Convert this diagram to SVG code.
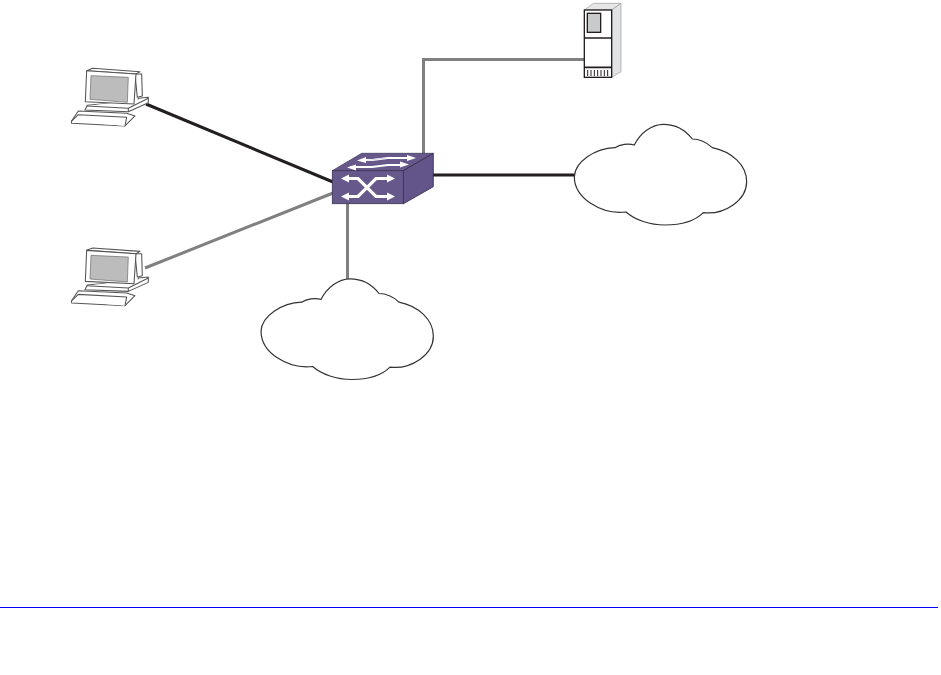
<svg xmlns="http://www.w3.org/2000/svg" width="941" height="675" viewBox="0 0 941 675">
<style>
.blk{fill:none;stroke:#231f20;stroke-width:3}
.gry{fill:none;stroke:#808080;stroke-width:3}
.cloud{fill:#fff;stroke:#333;stroke-width:3.6}
.o{fill:#fff;stroke:#555;stroke-width:3.2;stroke-linejoin:round}
.w{fill:none;stroke:#fff;stroke-width:2}
.x{fill:none;stroke:#fff;stroke-width:3.2}
.wf{fill:#fff}
</style>
<defs>
<path id="cloudShape" class="cloud" d="M28 185C30 140 90 100 150 98C165 88 190 85 208 90C225 55 260 28 295 28C335 28 365 50 382 72C405 72 425 82 442 98C500 110 545 150 545 200C545 255 480 300 415 293C390 318 350 330 300 330C255 330 210 315 183 291C110 300 28 250 28 185Z"/>
<g id="pc">
<path class="o" d="M235 115L265 112L265 128L205 155L75 150L82 136L235 122Z"/>
<path class="o" d="M205 155L205 145M265 115L205 145L80 138"/>
<path class="o" d="M55 153L200 160L225 168L195 198L35 190L34 184Z"/>
<path class="o" d="M195 198L200 172L55 164L34 184"/>
<path class="o" d="M225 42L245 42L247 108L232 112Z"/>
<path class="o" d="M80 32L98 25L240 35L228 42Z"/>
<path class="o" d="M80 32L228 42L222 132L76 125Z"/>
<path d="M93 47L205 52L202 127L90 118Z" fill="#bcbcbc" stroke="#666" stroke-width="2"/>
</g>
</defs>
<g id="connectors">
<path class="blk" d="M146 104L333 182"/>
<path class="gry" d="M145 268L333 193"/>
<path class="gry" d="M347.5 203V279"/>
<path class="gry" d="M423.5 154V59.5H585"/>
<path class="blk" d="M433 175H576"/>
</g>
<g id="pc1" transform="translate(60 60) scale(.3333)"><use href="#pc"/></g>
<g id="pc2" transform="translate(60 239.7) scale(.3333)"><use href="#pc"/></g>
<g id="server" transform="translate(570 0) scale(.3333)">
<path d="M43 30L70 10H153L125 30Z" fill="#e6e6e6" stroke="#999" stroke-width="2"/>
<path d="M125 30L153 10V215L125 232Z" fill="#e2e3e4" stroke="#999" stroke-width="2"/>
<rect x="43" y="30" width="82" height="202" fill="#fff" stroke="#231f20" stroke-width="4"/>
<rect x="52" y="40" width="40" height="57" fill="#c9cacb" stroke="#231f20" stroke-width="4"/>
<path d="M43 114H125M43 202H125" stroke="#231f20" stroke-width="5" fill="none"/>
<path d="M53 210V228M63 210V228M73 210V228M83 210V228M93 210V228M103 210V228M113 210V228" stroke="#231f20" stroke-width="3" fill="none"/>
</g>
<g id="switch">
<path d="M332.3 170.7L361.7 153.3H433.3L403.3 170.7Z" fill="#67588c" stroke="#3a3256" stroke-width=".7"/>
<path d="M403.3 170.7L433.3 153.3V186.7L403.3 203.8Z" fill="#63548a" stroke="#2e2745" stroke-width=".8"/>
<rect x="332.3" y="170.7" width="71" height="33" fill="#67588c" stroke="#3a3256" stroke-width=".8"/>
<path class="x" d="M347 178.5H358L376 196.5H389M347 196.5H358L376 178.5H389"/>
<path class="wf" d="M341 178.5L349 174.5V182.5ZM395 178.5L387 174.5V182.5ZM341 196.5L349 192.5V200.5ZM395 196.5L387 192.5V200.5Z"/>
<path class="w" d="M362 160H372L388 158H410M350 167H372L388 165H402"/>
<path d="M372 160.5L388 158H380L364 160.5Z" fill="#d8d8e0"/>
<path class="wf" d="M357 160.5L366 157V163ZM416 158L407 155V161ZM347 167.5L356 164.5V170.5ZM409 164.5L400 161.5V167.5Z"/>
</g>
<g id="cloud1" transform="translate(565 115) scale(.3333)"><use href="#cloudShape"/></g>
<g id="cloud2" transform="translate(251.7 269.5) scale(.3333)"><use href="#cloudShape"/></g>
<path d="M0 607.5H938" stroke="#0000ff" stroke-width="1"/>
</svg>
